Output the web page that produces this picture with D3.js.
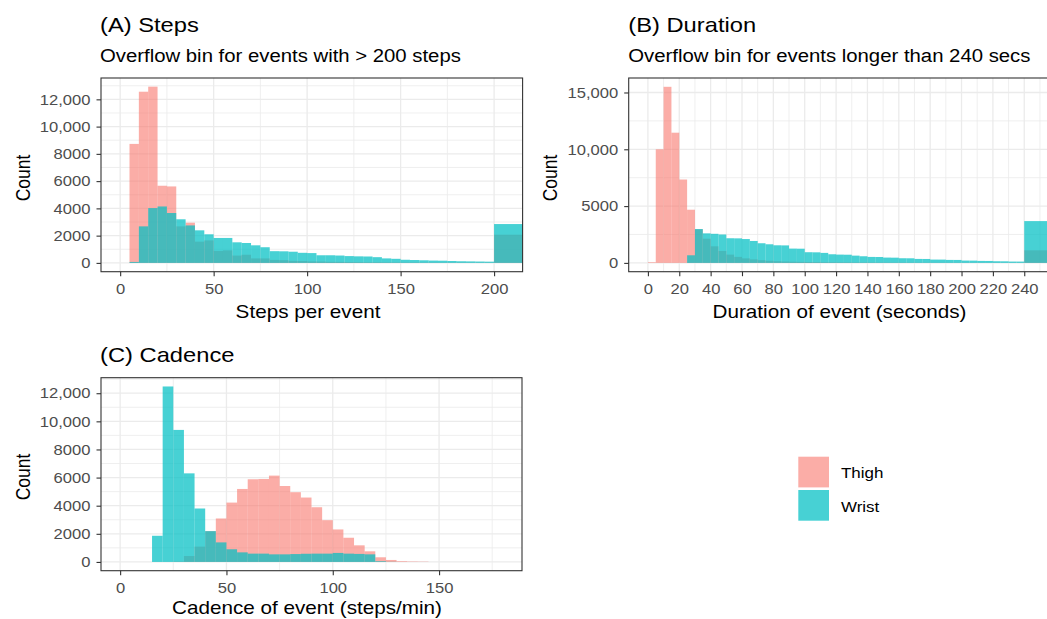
<!doctype html>
<meta charset="utf-8" />
<script src="https://cdn.jsdelivr.net/npm/d3@7"></script>
<style>
    body {
        margin: 0;
        background: white;
    }

    svg {
        display: block
    }

    text {
        font-family: "Liberation Sans", Arial, sans-serif;
    }
</style>
<svg id="chart"></svg>
<script>
    // (A) steps per event, bins of 5 starting at 5, overflow bin for > 200
    var stepBins = d3.range(5, 200, 5);
    var stepThigh = [8730, 12560, 12930, 5660, 5610, 2680, 2950, 1560, 1650, 880, 920, 540, 600, 330, 330, 220,
        200, 150, 140, 110, 100, 80, 75, 60, 55, 45, 45, 40, 35, 30, 30, 25, 25, 20, 20, 20, 15, 15, 15];
    var stepWrist = [70, 2680, 4020, 4140, 3660, 3200, 2750, 2390, 2100, 1830, 1830, 1510, 1460, 1290, 1150, 860,
        850, 820, 740, 720, 560, 560, 540, 500, 480, 470, 420, 330, 300, 230, 210, 190, 170, 160, 140, 120, 110, 100, 90];
    var stepOverflow = { Thigh: 2070, Wrist: 2850 };

    // (B) duration in seconds, bins of 5 starting at 0, overflow bin for > 240
    var durBins = d3.range(0, 240, 5);
    var durThigh = [60, 10000, 15500, 11460, 7340, 4680, 2950, 2130, 1460, 1050, 730, 530, 400, 310, 240, 190,
        150, 125, 105, 90, 80, 70, 60, 55, 50, 45, 40, 38, 35, 32, 30, 28, 26, 24, 22, 20, 19, 18, 17, 16,
        15, 14, 13, 12, 11, 10, 10, 9];
    var durWrist = [0, 0, 0, 0, 0, 670, 2980, 2600, 2560, 2500, 2170, 2160, 2100, 1930, 1730, 1640,
        1550, 1540, 1260, 1250, 940, 930, 880, 760, 730, 720, 640, 585, 526, 520, 468, 460, 410, 405, 350, 345,
        292, 290, 263, 260, 205, 200, 175, 170, 146, 140, 117, 115];
    var durOverflow = { Thigh: 1110, Wrist: 3680 };

    // (C) cadence in steps/min, bins of 5 starting at 15
    var cadBins = d3.range(15, 145, 5);
    var cadThigh = [0, 0, 25, 420, 1090, 2190, 3090, 4220, 5190, 5880, 5900, 6140, 5400, 4960, 4580, 3890,
        2970, 2310, 1720, 1180, 755, 330, 140, 50, 30, 20];
    var cadWrist = [1860, 12480, 9390, 6300, 3800, 2190, 1390, 900, 680, 590, 590, 540, 540, 560, 580, 590,
        590, 640, 590, 570, 540, 50, 10, 0, 0, 0];

    var groups = ['Thigh', 'Wrist'];
    var fills = { Thigh: '#F8766D', Wrist: '#00BFC4' };
    var alphas = { Thigh: 0.6, Wrist: 0.72 };

    var SX = 1.13; // the reference text is a little wide
    var svg = d3.select('#chart').attr('width', 1047).attr('height', 619);

    function txt(sel, x, y, str, size, anchor, color, rot) {
        return sel.append('text')
            .attr('transform', 'translate(' + x + ',' + y + ') scale(' + SX + ',1)' + (rot ? ' rotate(-90)' : ''))
            .attr('text-anchor', anchor || 'start')
            .style('font-size', size + 'px')
            .style('fill', color || '#000')
            .text(str);
    }

    function countFmt(v) {
        return v >= 10000 ? d3.format(',')(v) : String(v);
    }

    function panel(o) {
        var x = o.x, y = o.y;
        var x0 = x.range()[0], x1 = x.range()[1];
        var yb = y.range()[0], yt = y.range()[1];
        var g = svg.append('g');

        // grid
        var grid = g.append('g');
        grid.selectAll('.vx').data(o.xMinor.concat(o.xTicks)).enter().append('line')
            .attr('x1', d => x(d)).attr('x2', d => x(d))
            .attr('y1', yt).attr('y2', yb)
            .attr('stroke', '#EBEBEB')
            .attr('stroke-width', (d, i) => i < o.xMinor.length ? 0.8 : 1.3);
        grid.selectAll('.hy').data(o.yMinor.concat(o.yTicks)).enter().append('line')
            .attr('x1', x0).attr('x2', x1)
            .attr('y1', d => y(d)).attr('y2', d => y(d))
            .attr('stroke', '#EBEBEB')
            .attr('stroke-width', (d, i) => i < o.yMinor.length ? 0.8 : 1.3);

        svg.append('clipPath').attr('id', 'clip' + o.id)
            .append('rect')
            .attr('x', x0).attr('y', yt)
            .attr('width', x1 - x0).attr('height', yb - yt);

        var bars = g.append('g').attr('clip-path', 'url(#clip' + o.id + ')');
        groups.forEach(function (k) {
            var rows = o.bins.map((b, i) => ({ a: b, b: b + o.width, v: o.series[k][i] }));
            if (o.overflow) rows.push({ a: o.overflowAt, b: o.overflowAt + 20, v: o.overflow[k] });
            bars.append('g').selectAll('rect').data(rows.filter(d => d.v > 0)).enter().append('rect')
                .attr('x', d => x(d.a))
                .attr('width', d => x(d.b) - x(d.a))
                .attr('y', d => y(d.v))
                .attr('height', d => y(0) - y(d.v))
                .attr('fill', fills[k])
                .attr('fill-opacity', alphas[k]);
        });

        g.append('rect')
            .attr('x', x0).attr('y', yt)
            .attr('width', x1 - x0).attr('height', yb - yt)
            .attr('fill', 'none')
            .attr('stroke', '#333333')
            .attr('stroke-width', 1.1);

        var ax = g.append('g')
            .attr('transform', 'translate(0,' + yb + ')')
            .call(d3.axisBottom(x).tickValues(o.xTicks).tickSize(4.5).tickPadding(7.4).tickFormat(d => d));
        var ay = g.append('g')
            .attr('transform', 'translate(' + x0 + ',0)')
            .call(d3.axisLeft(y).tickValues(o.yTicks).tickSize(4.5).tickFormat(countFmt));
        [ax, ay].forEach(function (a) {
            a.select('.domain').remove();
            a.selectAll('line').attr('stroke', '#333333').attr('stroke-width', 1.1);
            a.selectAll('text')
                .attr('fill', '#4D4D4D')
                .style('font-size', '14.7px')
                .style('font-family', '"Liberation Sans", Arial, sans-serif')
                .attr('transform', 'scale(' + SX + ',1)');
        });
        ay.selectAll('text').attr('x', -10.5 / SX);

        txt(svg, o.titleX, o.titleY, o.title, 21);
        if (o.subtitle) txt(svg, o.titleX, o.titleY + 29.5, o.subtitle, 18);
        txt(svg, o.xLabelX, o.xLabelY, o.xLabel, 18.3, 'middle');
        txt(svg, 29.5 + (x0 - 101), o.countY, 'Count', 17.5, 'middle', '#000', true);
    }

    panel({
        id: 'A',
        x: d3.scaleLinear().domain([-10.25, 215.25]).range([101, 522.6]),
        y: d3.scaleLinear().domain([-646, 13566]).range([271.7, 78]),
        bins: stepBins, width: 5,
        series: { Thigh: stepThigh, Wrist: stepWrist },
        overflow: stepOverflow, overflowAt: 200,
        xTicks: [0, 50, 100, 150, 200], xMinor: [25, 75, 125, 175],
        yTicks: d3.range(0, 12001, 2000), yMinor: d3.range(1000, 13001, 2000),
        title: '(A) Steps', subtitle: 'Overflow bin for events with > 200 steps',
        titleX: 100, titleY: 32,
        xLabel: 'Steps per event', xLabelX: 308, xLabelY: 317.5,
        countY: 178
    });

    panel({
        id: 'B',
        x: d3.scaleLinear().domain([-12.25, 257.25]).range([628.7, 1051.3]),
        y: d3.scaleLinear().domain([-775, 16275]).range([271.7, 78]),
        bins: durBins, width: 5,
        series: { Thigh: durThigh, Wrist: durWrist },
        overflow: durOverflow, overflowAt: 240,
        xTicks: d3.range(0, 241, 20), xMinor: d3.range(10, 251, 20),
        yTicks: [0, 5000, 10000, 15000], yMinor: [2500, 7500, 12500],
        title: '(B) Duration', subtitle: 'Overflow bin for events longer than 240 secs',
        titleX: 628.3, titleY: 32,
        xLabel: 'Duration of event (seconds)', xLabelX: 839.5, xLabelY: 317.5,
        countY: 178
    });

    panel({
        id: 'C',
        x: d3.scaleLinear().domain([-9, 189]).range([101, 522]),
        y: d3.scaleLinear().domain([-624, 13104]).range([570.7, 377.7]),
        bins: cadBins, width: 5,
        series: { Thigh: cadThigh, Wrist: cadWrist },
        xTicks: [0, 50, 100, 150], xMinor: [25, 75, 125, 175],
        yTicks: d3.range(0, 12001, 2000), yMinor: d3.range(1000, 13001, 2000),
        title: '(C) Cadence',
        titleX: 100, titleY: 362,
        xLabel: 'Cadence of event (steps/min)', xLabelX: 307, xLabelY: 614,
        countY: 477
    });

    // legend
    var legend = svg.append('g');
    groups.forEach(function (k, i) {
        legend.append('rect')
            .attr('x', 798.3).attr('y', 456.7 + i * 33.3)
            .attr('width', 30.7).attr('height', 30.7)
            .attr('fill', fills[k])
            .attr('fill-opacity', alphas[k]);
        txt(legend, 841, 478 + i * 33.5, k, 15);
    });
</script>
